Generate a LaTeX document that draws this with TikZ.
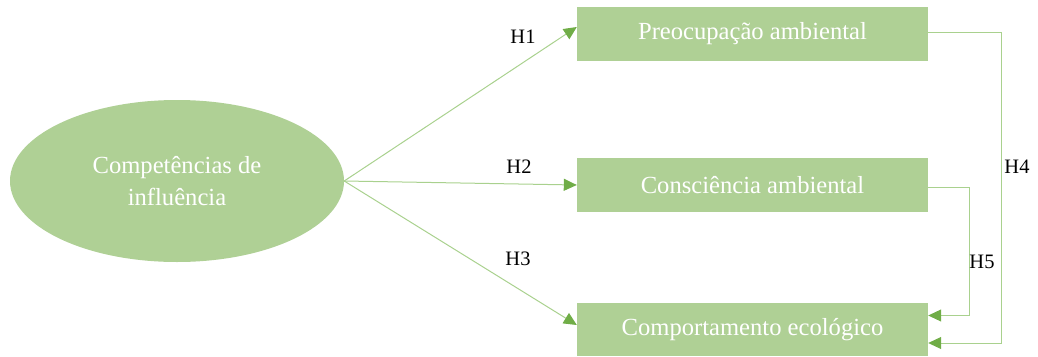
\documentclass[tikz,border=0pt]{standalone}
\usepackage{fontspec}
\setmainfont{Liberation Serif}
\usetikzlibrary{shapes.geometric,arrows.meta}
\definecolor{verdecaixa}{HTML}{AFD095}
\definecolor{verdelinha}{HTML}{A9D18E}
\definecolor{verdeponta}{HTML}{70AD47}
\begin{document}
\begin{tikzpicture}[x=1pt,y=-1pt,
    caixa/.style={fill=verdecaixa,minimum width=351pt,minimum height=54pt,
      inner sep=0pt,text=white,font=\fontsize{24.6}{30}\selectfont},
    elipse/.style={ellipse,fill=verdecaixa,minimum width=334pt,minimum height=162pt,
      inner sep=0pt,text=white,align=center,font=\fontsize{24.6}{32}\selectfont},
    seta/.style={draw=verdelinha,line width=1pt,
      -{Triangle[length=13pt,width=12pt,color=verdeponta]}},
    rotulo/.style={font=\fontsize{20.5}{24}\selectfont,inner sep=0pt}]
  \useasboundingbox (0,0) rectangle (1038,356);

  % Construtos
  \node[elipse] (comp) at (177,181) {Competências de\\influência};
  \node[caixa] (preo) at (752.5,34) {Preocupação ambiental};
  \node[caixa] (cons) at (752.5,185) {Consciência ambiental};
  \node[caixa,minimum height=53pt] (ecol) at (752.5,329.5) {Comportamento ecológico};

  % Hipoteses
  \draw[seta] (comp.east) -- ([yshift=7pt]preo.west);
  \draw[seta] (comp.east) -- (cons.west);
  \draw[seta] (comp.east) -- ([yshift=4.5pt]ecol.west);
  \draw[seta] ([yshift=2pt]preo.east) -- ++(73,0) |- ([yshift=-13.5pt]ecol.east);
  \draw[seta] ([yshift=-2pt]cons.east) -- ++(41,0) |- ([yshift=14pt]ecol.east);

  % Beschriftung
  \node[rotulo] (h1) at (523,37) {H1};
  \node[rotulo] (h2) at (519,167) {H2};
  \node[rotulo] (h3) at (518,259) {H3};
  \node[rotulo] (h4) at (1017,167) {H4};
  \node[rotulo] (h5) at (982,262) {H5};
\end{tikzpicture}
\end{document}
